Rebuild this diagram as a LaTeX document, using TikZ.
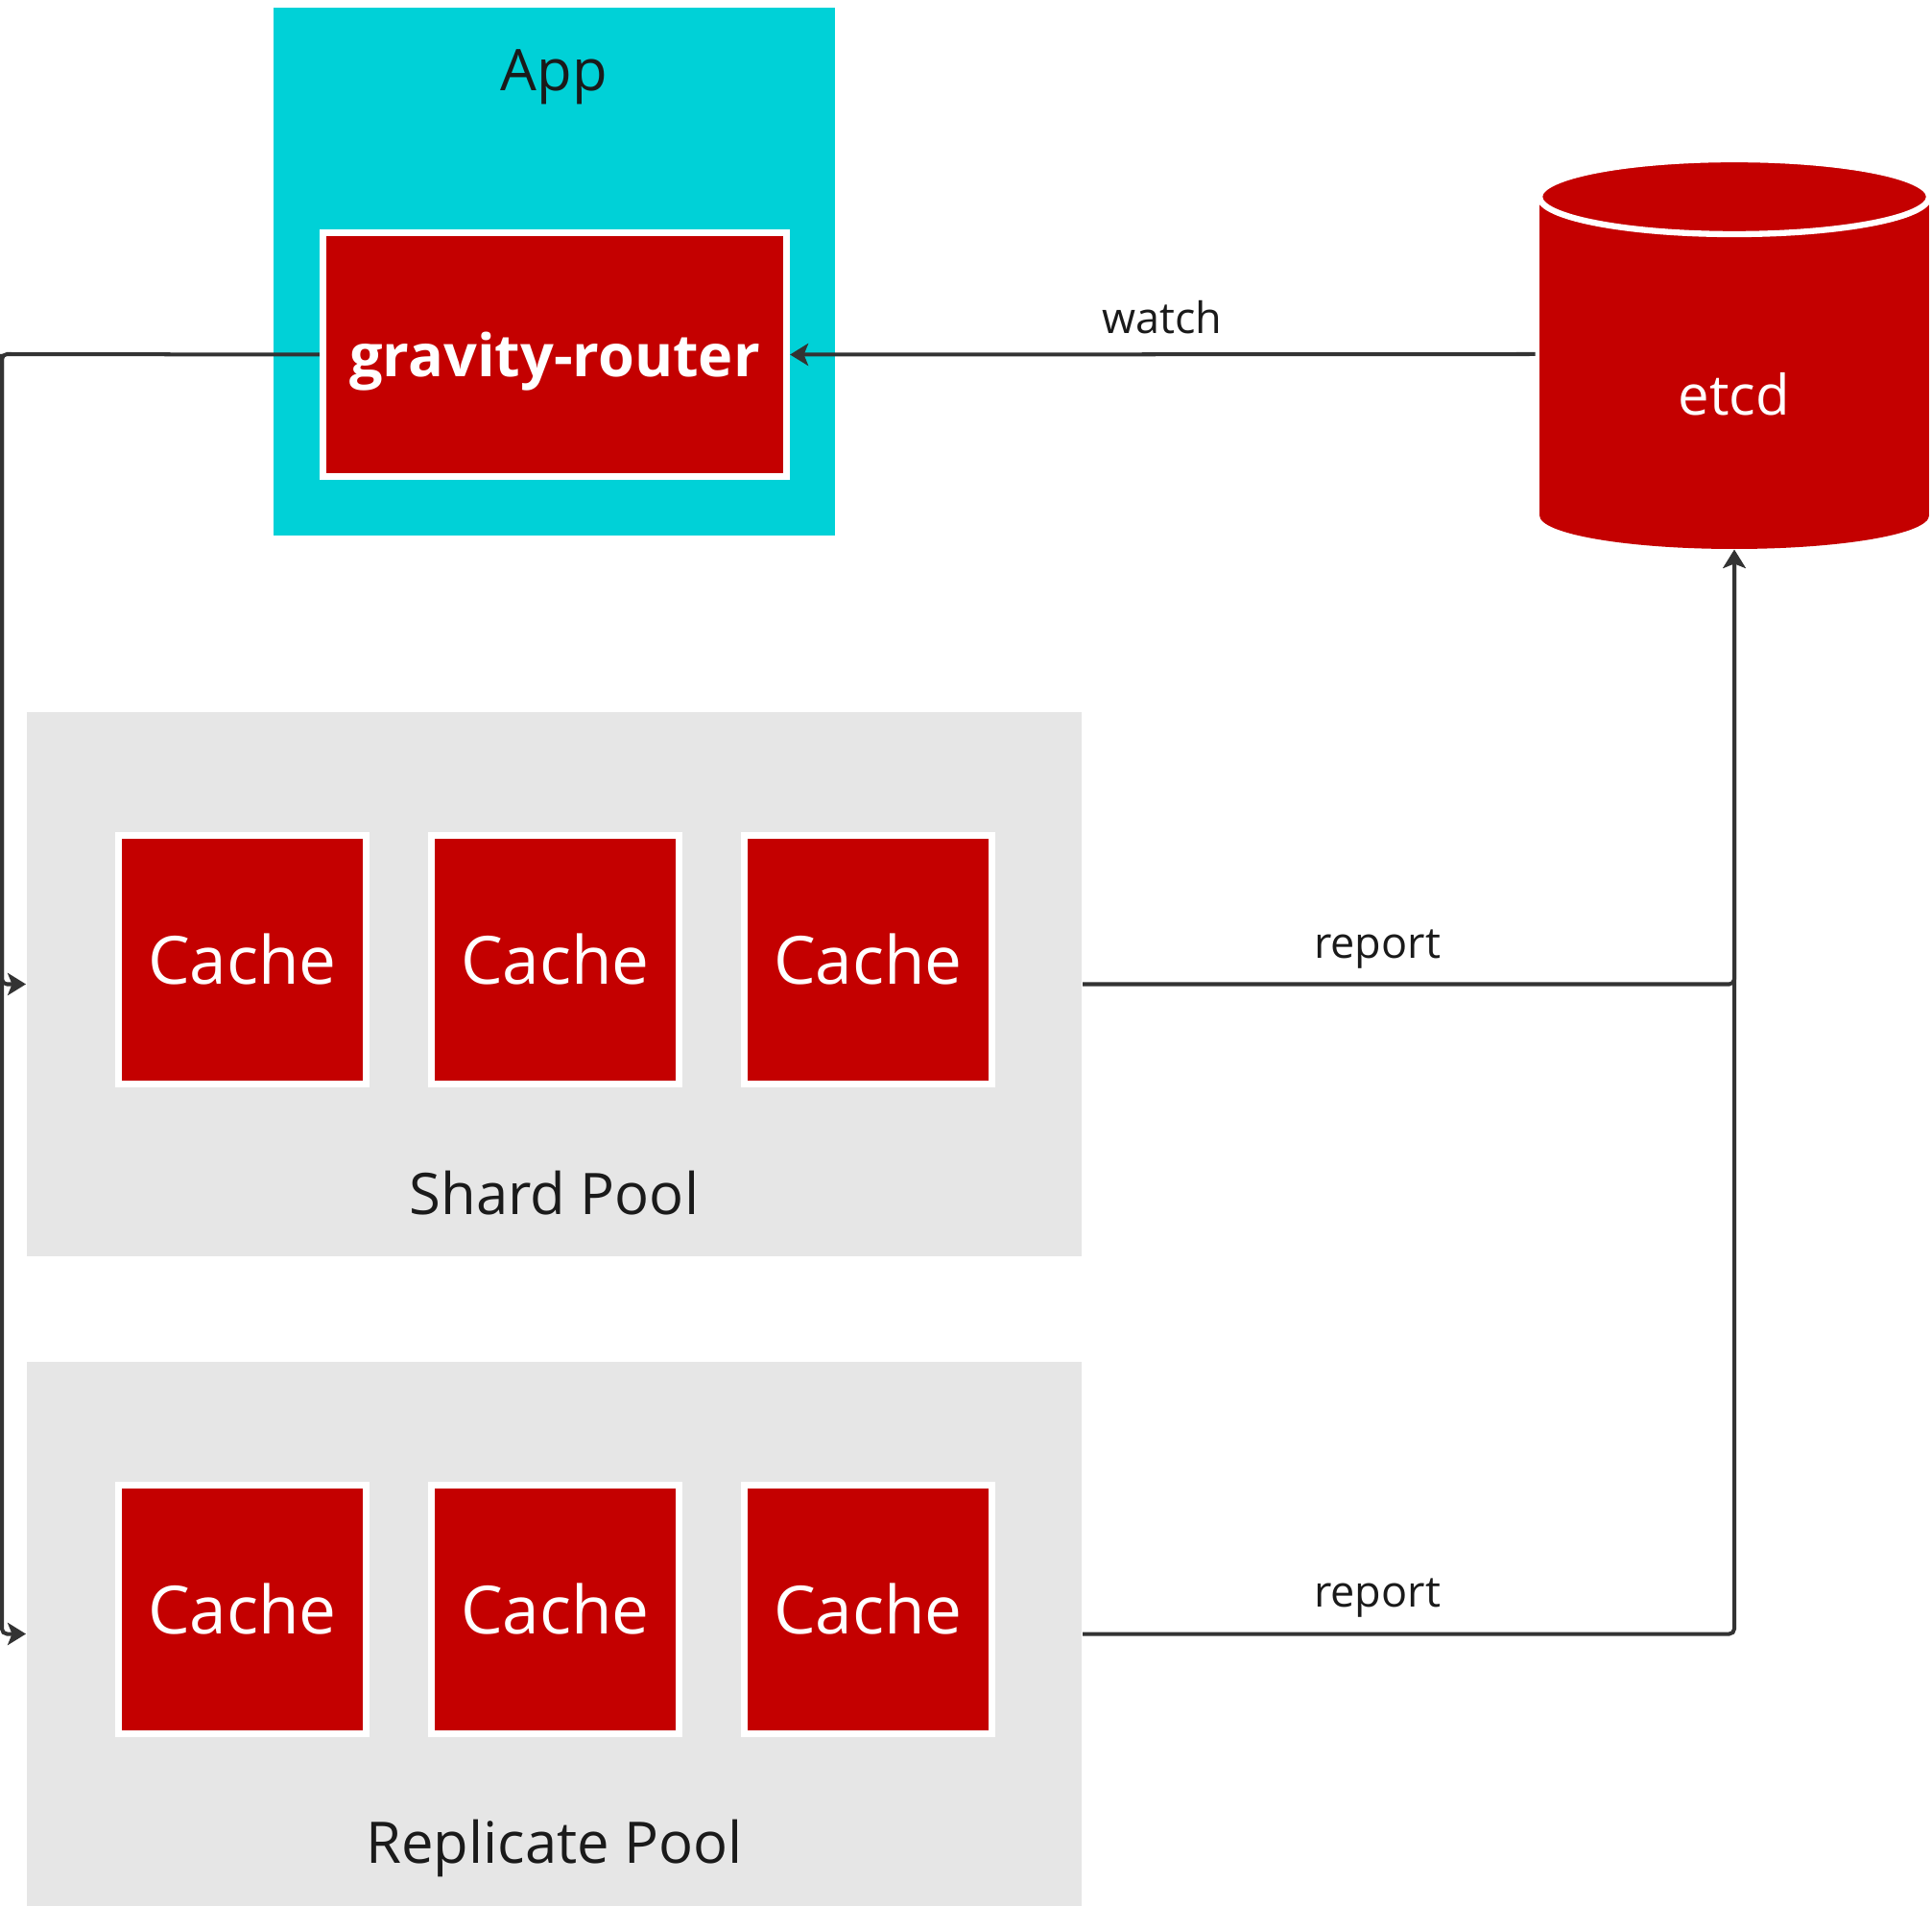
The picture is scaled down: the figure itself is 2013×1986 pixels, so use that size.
\documentclass[tikz,border=0pt]{standalone}
\usepackage{fontspec}
\setmainfont{Open Sans}
\usetikzlibrary{arrows.meta}
\definecolor{appcyan}{RGB}{0,209,215}
\definecolor{boxred}{RGB}{196,0,0}
\definecolor{poolgray}{RGB}{230,230,230}
\definecolor{linegray}{RGB}{51,51,51}
\definecolor{textdark}{RGB}{26,26,26}
\begin{document}
\begin{tikzpicture}[x=0.01cm,y=-0.01cm,
  appbox/.style={fill=appcyan, draw=none, minimum width=5.85cm, minimum height=5.5cm, inner sep=0pt},
  routerbox/.style={fill=boxred, draw=white, line width=2pt, minimum width=4.83cm, minimum height=2.54cm, inner sep=0pt, text=white, text depth=0pt, font=\bfseries\fontsize{17.4}{20}\selectfont},
  cachebox/.style={fill=boxred, draw=white, line width=2pt, minimum width=2.58cm, minimum height=2.58cm, inner sep=0pt, text=white, font=\fontsize{19.7}{23}\selectfont},
  poolbox/.style={fill=poolgray, draw=none, minimum width=10.99cm, minimum height=5.67cm, inner sep=0pt},
  areabox/.style={draw=none, fill=none, minimum width=4.06cm, minimum height=4.06cm, inner sep=0pt},
  titletext/.style={text=textdark, font=\fontsize{17}{20}\selectfont, anchor=base, inner sep=0pt},
  whitetext/.style={text=white, font=\fontsize{16.5}{20}\selectfont, anchor=base, inner sep=0pt},
  edgelabel/.style={text=textdark, font=\fontsize{12.8}{15}\selectfont, anchor=base, inner sep=0pt},
  conn/.style={draw=linegray, line width=1.14pt, rounded corners=1.5pt},
  tip/.style={-{Stealth[length=5.4pt,width=6.6pt,inset=1.3pt]}}
]
\useasboundingbox (0,0) rectangle (2013,1986);

% App container
\node[appbox] (app) at (577.5,283) {};
\node[titletext] (apptitle) at (577.5,95) {App};
\node[routerbox] (router) at (578,369.5) {gravity-router};

% etcd cylinder
\fill[boxred] (1604,206) rectangle (2010,537);
\fill[boxred] (1807,537) ellipse [x radius=203, y radius=35];
\filldraw[fill=boxred, draw=white, line width=1.8pt] (1807,205) ellipse [x radius=203, y radius=39];
\node[areabox] (etcd) at (1807,369) {};
\node[whitetext] (etcdtext) at (1807,433) {etcd};

% Shard pool
\node[poolbox] (shard) at (577.5,1025.5) {};
\node[cachebox] (s1) at (252.5,1000) {Cache};
\node[cachebox] (s2) at (578.5,1000) {Cache};
\node[cachebox] (s3) at (904.5,1000) {Cache};
\node[titletext] (shardtitle) at (577.5,1265) {Shard Pool};

% Replicate pool
\node[poolbox] (rep) at (577.5,1702.5) {};
\node[cachebox] (r1) at (252.5,1677) {Cache};
\node[cachebox] (r2) at (578.5,1677) {Cache};
\node[cachebox] (r3) at (904.5,1677) {Cache};
\node[titletext] (reptitle) at (577.5,1941) {Replicate Pool};

% connectors
\coordinate (lbend) at (2,369);
\draw[conn, tip, shorten <=1pt] (etcd.west) -- (router.east);
\node[edgelabel] (watchlabel) at (1211,348) {watch};
\draw[conn, tip] (router.west) -- (lbend) |- (shard.west);
\draw[conn, tip] (lbend) |- (rep.west);
\draw[conn, tip] (shard.east) -| (etcd.south);
\draw[conn, tip] (rep.east) -| (etcd.south);
\node[edgelabel] (report1) at (1435,998) {report};
\node[edgelabel] (report2) at (1435,1674) {report};
\end{tikzpicture}
\end{document}
